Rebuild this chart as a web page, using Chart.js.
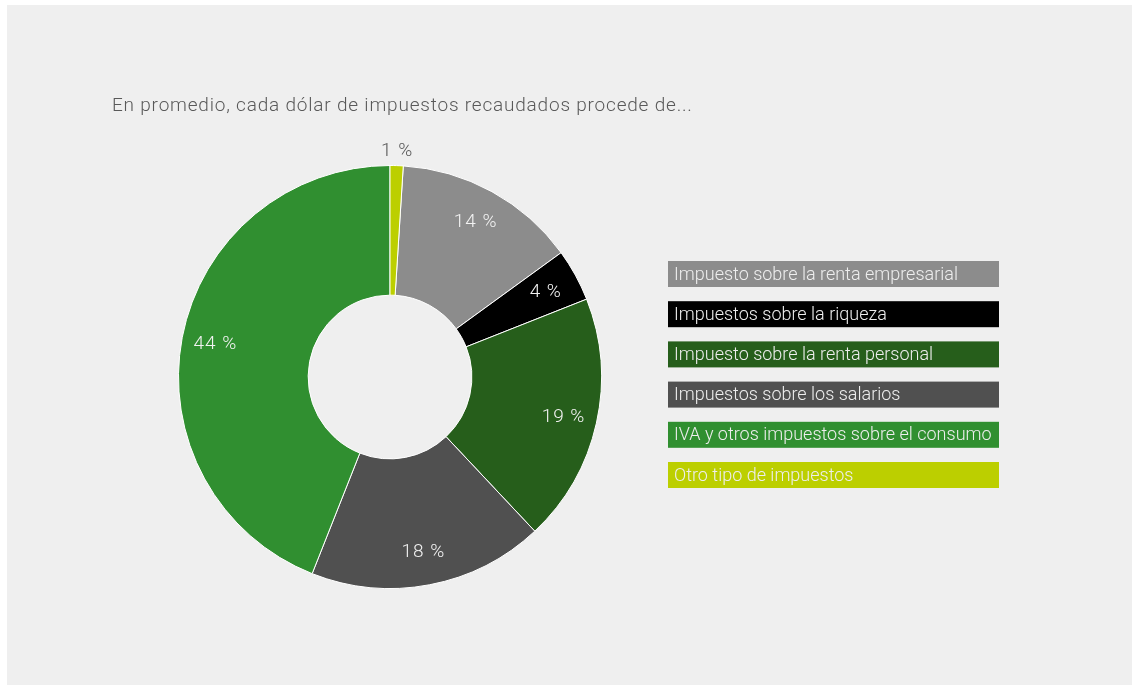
<!DOCTYPE html>
<html lang="es">
<head>
<meta charset="utf-8">
<title>Impuestos recaudados</title>
<script src="https://cdn.jsdelivr.net/npm/chart.js@4"></script>
<style>
  html, body { margin: 0; padding: 0; background: #ffffff; }
  #panel {
    position: absolute; left: 7px; top: 5px; width: 1125px; height: 680px;
    background: #efefef;
  }
  #wrap { position: absolute; left: 0; top: 0; width: 1134px; height: 686px; }
</style>
</head>
<body>
<div id="panel"></div>
<div id="wrap"><canvas id="taxChart"></canvas></div>
<script>
// ── Datos ──
const categorias = [
  "Impuesto sobre la renta empresarial",
  "Impuestos sobre la riqueza",
  "Impuesto sobre la renta personal",
  "Impuestos sobre los salarios",
  "IVA y otros impuestos sobre el consumo",
  "Otro tipo de impuestos"
];
const porcentajes = [14, 4, 19, 18, 44, 1];
const colores = ["#8c8c8c", "#000000", "#265e1b", "#505050", "#308f30", "#bccf00"];
const titulo = "En promedio, cada dólar de impuestos recaudados procede de...";

const FUENTE = "Roboto, 'Noto Sans', sans-serif";

// etiquetas de porcentaje sobre cada porción (las chicas van afuera)
const etiquetasPlugin = {
  id: "etiquetas",
  afterDatasetsDraw(chart) {
    const ctx = chart.ctx;
    const meta = chart.getDatasetMeta(0);
    ctx.save();
    ctx.font = "19px " + FUENTE;
    ctx.letterSpacing = "1px";
    ctx.textAlign = "center";
    ctx.textBaseline = "middle";
    meta.data.forEach((arc, i) => {
      const p = arc.getProps(["x", "y", "startAngle", "endAngle", "innerRadius", "outerRadius"], true);
      const mid = (p.startAngle + p.endAngle) / 2;
      const valor = chart.data.datasets[0].data[i];
      let r, color;
      if (valor < 3) {
        r = p.outerRadius + 15;
        color = "#595959";
      } else {
        r = p.innerRadius + 0.74 * (p.outerRadius - p.innerRadius);
        color = "#f2f2f2";
      }
      ctx.fillStyle = color;
      ctx.font = (valor < 3 ? "300 " : "300 ") + "19px " + FUENTE;
      ctx.fillText(valor + " %", p.x + Math.cos(mid) * r, p.y + Math.sin(mid) * r + 1);
    });
    ctx.restore();
  }
};

// título y leyenda con el texto dentro de cada bloque de color
const leyendaPlugin = {
  id: "leyendaBloques",
  afterDraw(chart) {
    const ctx = chart.ctx;
    ctx.save();
    ctx.font = "300 19px " + FUENTE;
    ctx.letterSpacing = "0.8px";
    ctx.fillStyle = "#595959";
    ctx.textAlign = "left";
    ctx.textBaseline = "alphabetic";
    ctx.fillText(titulo, 112, 111);

    const x = 668, w = 331, h = 26, top0 = 261, paso = 40.2;
    ctx.font = "300 18px " + FUENTE;
    ctx.letterSpacing = "0px";
    ctx.textBaseline = "middle";
    chart.data.labels.forEach((lab, i) => {
      const y = top0 + i * paso;
      ctx.fillStyle = chart.data.datasets[0].backgroundColor[i];
      ctx.fillRect(x, y, w, h);
      ctx.fillStyle = "#eeeeee";
      ctx.fillText(lab, x + 6, y + h / 2 + 1);
    });
    ctx.restore();
  }
};

new Chart(document.getElementById("taxChart").getContext("2d"), {
  type: "doughnut",
  data: {
    labels: categorias,
    datasets: [{
      data: porcentajes,
      backgroundColor: colores,
      borderColor: "#ffffff",
      borderWidth: 1
    }]
  },
  options: {
    responsive: true,
    maintainAspectRatio: false,
    animation: false,
    rotation: 3.6,
    cutout: "38.7%",
    layout: { padding: { left: 178, right: 532, top: 165, bottom: 97 } },
    plugins: {
      legend: { display: false },
      tooltip: { enabled: false }
    }
  },
  plugins: [etiquetasPlugin, leyendaPlugin]
});
</script>
</body>
</html>
